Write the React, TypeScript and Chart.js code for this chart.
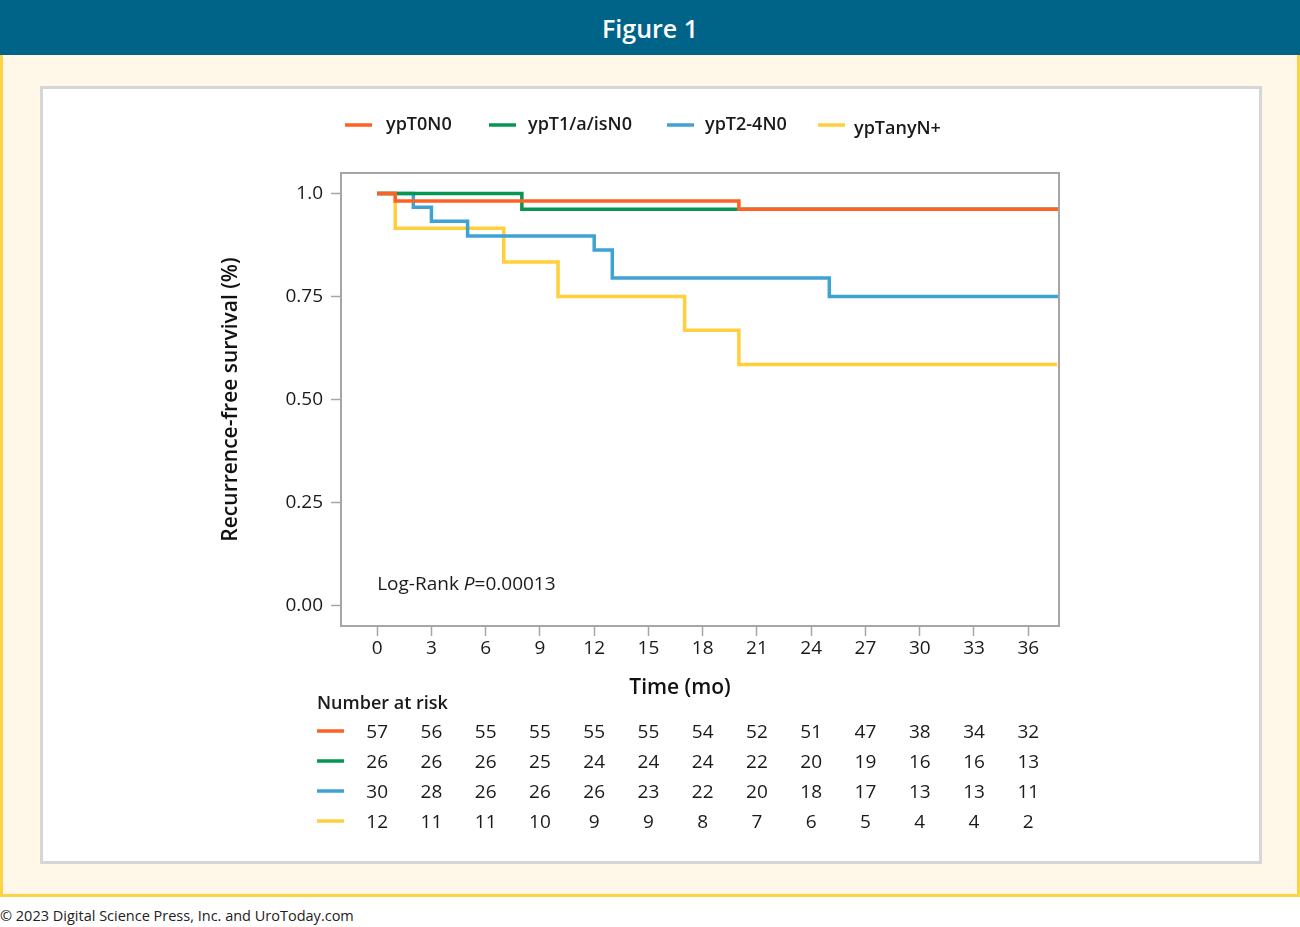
import React, { useEffect, useRef } from "react";
import { Chart, registerables } from "chart.js";

Chart.register(...registerables);

// ---- Data ----
const seriesLabels = ["ypT0N0", "ypT1/a/isN0", "ypT2-4N0", "ypTanyN+"];
const seriesColors = ["#FF6124", "#06964F", "#3EA2D2", "#FFCF3C"];

const t0n0Times = [0, 1, 20, 37.7];
const t0n0Surv = [1, 0.982, 0.962, 0.962];

const t1n0Times = [0, 8, 37.7];
const t1n0Surv = [1, 0.962, 0.962];

const t24n0Times = [0, 2, 3, 5, 12, 13, 25, 37.7];
const t24n0Surv = [1, 0.967, 0.933, 0.897, 0.863, 0.795, 0.75, 0.75];

const tanyNTimes = [0, 1, 7, 10, 17, 20, 37.6];
const tanyNSurv = [1, 0.916, 0.834, 0.75, 0.668, 0.585, 0.585];

const xTickValues = [0, 3, 6, 9, 12, 15, 18, 21, 24, 27, 30, 33, 36];
const yTickValues = [0, 0.25, 0.5, 0.75, 1.0];
const yTickLabels = ["0.00", "0.25", "0.50", "0.75", "1.0"];

const riskT0N0 = [57, 56, 55, 55, 55, 55, 54, 52, 51, 47, 38, 34, 32];
const riskT1N0 = [26, 26, 26, 25, 24, 24, 24, 22, 20, 19, 16, 16, 13];
const riskT24N0 = [30, 28, 26, 26, 26, 23, 22, 20, 18, 17, 13, 13, 11];
const riskTanyN = [12, 11, 11, 10, 9, 9, 8, 7, 6, 5, 4, 4, 2];

const FONT = "'Open Sans', 'Noto Sans', sans-serif";
const TEXT = "#1a1a1a";
const FRAME = "#a6a6a6";

const toPts = (t: number[], s: number[]) => t.map((x, i) => ({ x, y: s[i] }));

export default function App() {
  const ref = useRef<HTMLCanvasElement | null>(null);

  useEffect(() => {
    if (!ref.current) return;
    const riskRows = [riskT0N0, riskT1N0, riskT24N0, riskTanyN];

    const overlay = {
      id: "overlay",
      afterDraw(chart: any) {
        const ctx = chart.ctx;
        const a = chart.chartArea;
        const xs = chart.scales.x;
        ctx.save();
        // frame
        ctx.strokeStyle = FRAME;
        ctx.lineWidth = 2;
        ctx.strokeRect(a.left, a.top, a.right - a.left, a.bottom - a.top);

        // x-axis title
        ctx.textBaseline = "middle";
        ctx.textAlign = "center";
        ctx.fillStyle = "#111";
        ctx.font = `600 21px ${FONT}`;
        ctx.fillText("Time (mo)", 680, 688);

        // legend
        const legX = [345, 489, 667, 818];
        const legTextX = [386, 528, 705, 854];
        const legY = [125, 125, 125, 125];
        const legTY = [125, 125, 125, 129];
        ctx.textAlign = "left";
        ctx.font = `600 18px ${FONT}`;
        for (let i = 0; i < 4; i++) {
          ctx.strokeStyle = seriesColors[i];
          ctx.lineWidth = 3.5;
          ctx.beginPath();
          ctx.moveTo(legX[i], legY[i]);
          ctx.lineTo(legX[i] + 27, legY[i]);
          ctx.stroke();
          ctx.fillStyle = TEXT;
          ctx.fillText(seriesLabels[i], legTextX[i], legTY[i]);
        }

        // log-rank
        ctx.font = `19px ${FONT}`;
        ctx.fillStyle = TEXT;
        const lx = xs.getPixelForValue(0);
        const ly = 585;
        const p1 = "Log-Rank ";
        ctx.fillText(p1, lx, ly);
        let w = ctx.measureText(p1).width;
        ctx.font = `italic 19px ${FONT}`;
        ctx.fillText("P", lx + w, ly);
        w += ctx.measureText("P").width;
        ctx.font = `19px ${FONT}`;
        ctx.fillText("=0.00013", lx + w, ly);

        // risk table
        ctx.font = `600 18px ${FONT}`;
        ctx.fillText("Number at risk", 317, 704);
        const rowY = [733, 763, 793, 823];
        ctx.font = `19px ${FONT}`;
        ctx.textAlign = "center";
        for (let r = 0; r < 4; r++) {
          ctx.strokeStyle = seriesColors[r];
          ctx.lineWidth = 3.5;
          ctx.beginPath();
          ctx.moveTo(317, rowY[r] - 2);
          ctx.lineTo(344, rowY[r] - 2);
          ctx.stroke();
          ctx.fillStyle = TEXT;
          riskRows[r].forEach((n, i) => {
            ctx.fillText(String(n), xs.getPixelForValue(xTickValues[i]), rowY[r]);
          });
        }
        ctx.restore();
      },
    };

    const series = [
      toPts(t0n0Times, t0n0Surv),
      toPts(t1n0Times, t1n0Surv),
      toPts(t24n0Times, t24n0Surv),
      toPts(tanyNTimes, tanyNSurv),
    ];

    const chart = new Chart(ref.current, {
      type: "line",
      data: {
        datasets: series.map((pts, i) => ({
          label: seriesLabels[i],
          data: pts,
          borderColor: seriesColors[i],
          backgroundColor: seriesColors[i],
          borderWidth: 3.5,
          pointRadius: 0,
          stepped: "before" as const,
          fill: false,
          order: i,
        })),
      },
      options: {
        responsive: false,
        animation: false,
        devicePixelRatio: 1,
        layout: { padding: { left: 218, right: 241, top: 173, bottom: 228 } },
        plugins: { legend: { display: false }, tooltip: { enabled: false } },
        scales: {
          x: {
            type: "linear",
            min: -2,
            max: 37.7,
            afterBuildTicks: (ax: any) => {
              ax.ticks = xTickValues.map((v) => ({ value: v }));
            },
            afterFit: (s: any) => {
              s.height = 73;
            },
            grid: { drawOnChartArea: false, drawTicks: true, tickLength: 10, tickColor: FRAME, tickWidth: 1.5 },
            border: { display: false },
            ticks: {
              autoSkip: false,
              maxRotation: 0,
              padding: 1,
              color: TEXT,
              font: { family: FONT, size: 19 },
              callback: (v: any) => String(v),
            },
            title: { display: false },
          },
          y: {
            type: "linear",
            min: -0.05,
            max: 1.05,
            afterBuildTicks: (ax: any) => {
              ax.ticks = yTickValues.map((v) => ({ value: v }));
            },
            afterFit: (s: any) => {
              s.width = 123;
            },
            grid: { drawOnChartArea: false, drawTicks: true, tickLength: 10, tickColor: FRAME, tickWidth: 1.5 },
            border: { display: false },
            ticks: {
              padding: 8,
              color: TEXT,
              font: { family: FONT, size: 19 },
              callback: (v: any) => {
                const i = yTickValues.indexOf(Number(v));
                return i >= 0 ? yTickLabels[i] : "";
              },
            },
            title: {
              display: true,
              text: "Recurrence-free survival (%)",
              color: "#111",
              font: { family: FONT, size: 21, weight: "600" },
              padding: 0,
            },
          },
        },
      },
      plugins: [overlay],
    } as any);

    return () => chart.destroy();
  }, []);

  return (
    <div style={{ position: "absolute", left: 0, top: 0, width: 1300, height: 927, background: "#fff", overflow: "hidden", fontFamily: FONT }}>
      <div
        style={{
          position: "absolute", left: 0, top: 0, width: 1300, height: 55, background: "#006489",
          color: "#fff", fontSize: 25, fontWeight: 600, display: "flex", alignItems: "center", justifyContent: "center",
        }}
      >
        Figure 1
      </div>
      <div
        style={{
          position: "absolute", left: 0, top: 55, width: 1300, height: 842, background: "#FFF8E9",
          borderLeft: "3px solid #FDD243", borderRight: "3px solid #FDD243", borderBottom: "3px solid #FDD243",
          boxSizing: "border-box",
        }}
      />
      <div
        style={{
          position: "absolute", left: 40, top: 86, width: 1222, height: 778, background: "#fff",
          border: "3px solid #d6d6d6", boxSizing: "border-box",
        }}
      />
      <div style={{ position: "absolute", left: 0, top: 906, fontSize: 14.5, color: "#222", whiteSpace: "nowrap", lineHeight: "20px" }}>
        © 2023 Digital Science Press, Inc. and UroToday.com
      </div>
      <canvas ref={ref} width={1300} height={927} style={{ position: "absolute", left: 0, top: 0, width: 1300, height: 927 }} />
    </div>
  );
}
